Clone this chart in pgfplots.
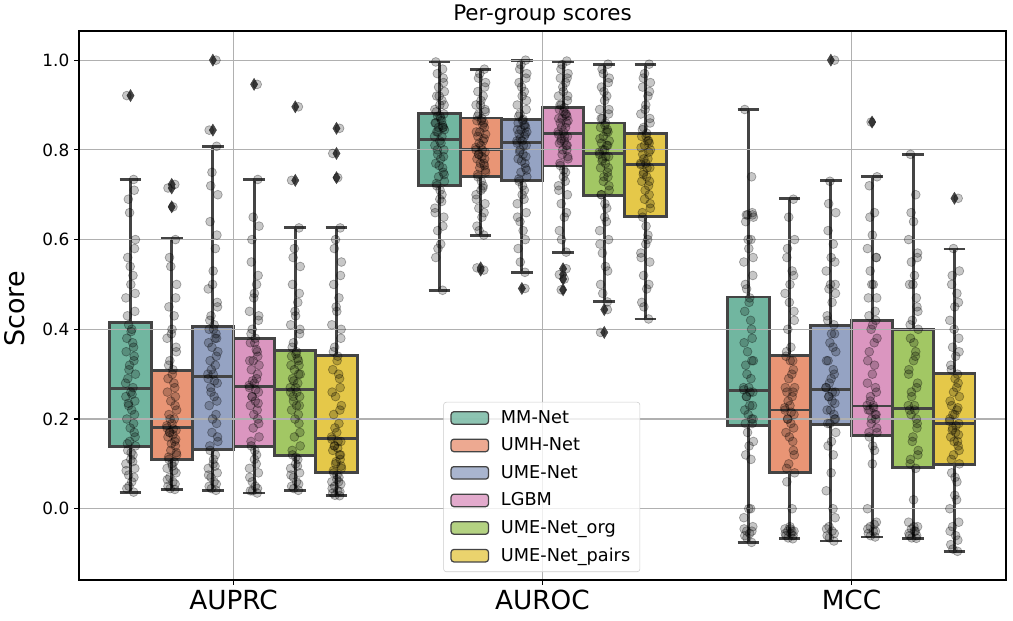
\documentclass[border=0pt]{standalone}
\usepackage{pgfplots}
\pgfplotsset{compat=1.18}
\usepackage{pgfplotstable}
\usepgfplotslibrary{statistics}
\usepackage{fontspec}
\setmainfont{DejaVu Sans}

\definecolor{cA}{RGB}{113,182,160}
\definecolor{cB}{RGB}{233,149,117}
\definecolor{cC}{RGB}{149,163,195}
\definecolor{cD}{RGB}{219,150,192}
\definecolor{cE}{RGB}{162,199,100}
\definecolor{cF}{RGB}{229,200,73}
\definecolor{bxline}{RGB}{68,68,68}
\definecolor{gridc}{RGB}{176,176,176}

% strip-plot points: j = jitter, a = AUPRC, b = AUROC, c = MCC
\pgfplotstableread[row sep=\\]{
j a b c\\
0.010 0.037 0.487 -0.075\\
-0.012 0.045 0.56 -0.06\\
0.004 0.06 0.59 -0.055\\
-0.006 0.075 0.62 -0.05\\
0.014 0.09 0.65 -0.04\\
-0.015 0.10 0.67 -0.02\\
0.001 0.11 0.69 0.0\\
0.008 0.12 0.70 0.11\\
-0.009 0.13 0.72 0.12\\
0.016 0.14 0.73 0.15\\
-0.003 0.15 0.74 0.17\\
0.012 0.17 0.75 0.19\\
0.010 0.19 0.76 0.20\\
-0.012 0.20 0.77 0.22\\
0.004 0.22 0.78 0.23\\
-0.006 0.23 0.79 0.25\\
0.014 0.24 0.80 0.26\\
-0.015 0.25 0.81 0.265\\
0.001 0.26 0.82 0.27\\
0.008 0.27 0.83 0.29\\
-0.009 0.29 0.84 0.32\\
0.016 0.30 0.845 0.33\\
-0.003 0.32 0.85 0.35\\
0.012 0.34 0.85 0.38\\
0.010 0.36 0.855 0.40\\
-0.012 0.38 0.86 0.44\\
0.004 0.40 0.87 0.47\\
-0.006 0.41 0.875 0.49\\
0.014 0.44 0.88 0.52\\
-0.015 0.47 0.89 0.55\\
0.001 0.50 0.90 0.58\\
0.008 0.52 0.91 0.60\\
-0.009 0.56 0.92 0.64\\
0.016 0.60 0.93 0.65\\
-0.003 0.66 0.94 0.655\\
0.012 0.71 0.96 0.66\\
0.010 0.734 0.98 0.74\\
-0.012 0.921 0.996 0.89\\
}\tMM
\pgfplotstableread[row sep=\\]{
j a b c\\
-0.005 0.05 0.58 -0.065\\
0.011 0.07 0.63 -0.05\\
-0.014 0.085 0.66 -0.045\\
0.007 0.105 0.685 0.0\\
0.002 0.125 0.71 0.14\\
-0.010 0.145 0.725 0.19\\
0.015 0.16 0.745 0.20\\
-0.001 0.18 0.765 0.21\\
0.013 0.21 0.785 0.23\\
-0.007 0.235 0.80 0.25\\
0.005 0.255 0.815 0.26\\
-0.016 0.28 0.83 0.27\\
-0.005 0.31 0.84 0.30\\
0.011 0.33 0.85 0.33\\
-0.014 0.35 0.86 0.37\\
0.007 0.37 0.865 0.42\\
0.002 0.395 0.875 0.46\\
-0.010 0.43 0.885 0.50\\
0.015 0.48 0.90 0.56\\
-0.001 0.54 0.92 0.60\\
0.013 0.58 0.95 0.655\\
-0.007 0.69 0.97 0.655\\
}\tMMb

\pgfplotstableread[row sep=\\]{
j a b c\\
0.010 0.043 0.61 -0.067\\
-0.012 0.05 0.63 -0.06\\
0.004 0.06 0.65 -0.055\\
-0.006 0.07 0.67 -0.05\\
0.014 0.08 0.68 -0.05\\
-0.015 0.09 0.70 -0.045\\
0.001 0.10 0.71 -0.04\\
0.008 0.105 0.72 0.0\\
-0.009 0.11 0.74 0.06\\
0.016 0.12 0.75 0.08\\
-0.003 0.13 0.76 0.10\\
0.012 0.14 0.765 0.13\\
0.010 0.15 0.77 0.15\\
-0.012 0.16 0.78 0.17\\
0.004 0.165 0.785 0.19\\
-0.006 0.17 0.79 0.20\\
0.014 0.175 0.795 0.21\\
-0.015 0.18 0.80 0.22\\
0.001 0.19 0.81 0.23\\
0.008 0.20 0.82 0.25\\
-0.009 0.21 0.83 0.26\\
0.016 0.22 0.835 0.27\\
-0.003 0.24 0.84 0.29\\
0.012 0.25 0.85 0.31\\
0.010 0.27 0.86 0.33\\
-0.012 0.29 0.865 0.34\\
0.004 0.31 0.87 0.36\\
-0.006 0.33 0.88 0.40\\
0.014 0.36 0.89 0.44\\
-0.015 0.38 0.90 0.48\\
0.001 0.40 0.91 0.50\\
0.008 0.43 0.92 0.53\\
-0.009 0.45 0.93 0.56\\
0.016 0.50 0.95 0.60\\
-0.003 0.54 0.97 0.65\\
0.012 0.60 0.98 0.69\\
0.010 0.723 0.532 nan\\
-0.012 0.715 0.537 nan\\
0.004 0.673 nan nan\\
}\tUMH
\pgfplotstableread[row sep=\\]{
j a b c\\
-0.005 0.045 0.62 -0.065\\
0.011 0.055 0.66 -0.06\\
-0.014 0.065 0.69 -0.055\\
0.007 0.085 0.715 -0.05\\
0.002 0.095 0.73 -0.045\\
-0.010 0.115 0.745 0.09\\
0.015 0.125 0.755 0.12\\
-0.001 0.145 0.77 0.16\\
0.013 0.155 0.78 0.18\\
-0.007 0.17 0.79 0.20\\
0.005 0.178 0.80 0.215\\
-0.016 0.185 0.805 0.225\\
-0.005 0.20 0.815 0.24\\
0.011 0.23 0.825 0.26\\
-0.014 0.26 0.84 0.27\\
0.007 0.28 0.855 0.30\\
0.002 0.30 0.865 0.33\\
-0.010 0.32 0.875 0.35\\
0.015 0.35 0.885 0.42\\
-0.001 0.39 0.90 0.46\\
0.013 0.47 0.94 0.52\\
-0.007 0.56 0.96 0.58\\
}\tUMHb

\pgfplotstableread[row sep=\\]{
j a b c\\
0.010 0.041 0.527 -0.072\\
-0.012 0.05 0.58 -0.06\\
0.004 0.06 0.62 -0.05\\
-0.006 0.07 0.64 -0.04\\
0.014 0.08 0.66 -0.02\\
-0.015 0.09 0.68 0.04\\
0.001 0.10 0.70 0.08\\
0.008 0.12 0.71 0.12\\
-0.009 0.13 0.73 0.14\\
0.016 0.15 0.74 0.17\\
-0.003 0.17 0.75 0.19\\
0.012 0.19 0.76 0.20\\
0.010 0.21 0.77 0.21\\
-0.012 0.23 0.78 0.22\\
0.004 0.25 0.79 0.24\\
-0.006 0.26 0.80 0.25\\
0.014 0.28 0.81 0.26\\
-0.015 0.29 0.815 0.27\\
0.001 0.30 0.82 0.29\\
0.008 0.32 0.83 0.31\\
-0.009 0.33 0.835 0.33\\
0.016 0.35 0.84 0.35\\
-0.003 0.36 0.845 0.37\\
0.012 0.38 0.85 0.39\\
0.010 0.39 0.855 0.41\\
-0.012 0.40 0.86 0.43\\
0.004 0.41 0.868 0.46\\
-0.006 0.43 0.88 0.49\\
0.014 0.46 0.89 0.50\\
-0.015 0.49 0.90 0.53\\
0.001 0.53 0.92 0.56\\
0.008 0.58 0.93 0.59\\
-0.009 0.64 0.95 0.62\\
0.016 0.70 0.97 0.66\\
-0.003 0.75 0.99 0.73\\
0.012 0.808 1.0 1.0\\
0.010 1.0 0.491 nan\\
-0.012 0.844 nan nan\\
}\tUME
\pgfplotstableread[row sep=\\]{
j a b c\\
-0.005 0.045 0.55 -0.065\\
0.011 0.055 0.60 -0.055\\
-0.014 0.075 0.65 -0.045\\
0.007 0.095 0.69 0.0\\
0.002 0.11 0.72 0.15\\
-0.010 0.14 0.735 0.19\\
0.015 0.16 0.755 0.20\\
-0.001 0.20 0.775 0.22\\
0.013 0.24 0.785 0.235\\
-0.007 0.27 0.795 0.25\\
0.005 0.285 0.81 0.26\\
-0.016 0.30 0.82 0.27\\
-0.005 0.31 0.825 0.28\\
0.011 0.34 0.835 0.30\\
-0.014 0.37 0.845 0.33\\
0.007 0.38 0.855 0.36\\
0.002 0.40 0.865 0.39\\
-0.010 0.42 0.875 0.42\\
0.015 0.45 0.91 0.48\\
-0.001 0.50 0.94 0.50\\
0.013 0.61 0.96 0.55\\
-0.007 0.72 0.98 0.68\\
}\tUMEb

\pgfplotstableread[row sep=\\]{
j a b c\\
0.010 0.035 0.572 -0.063\\
-0.012 0.04 0.62 -0.055\\
0.004 0.05 0.65 -0.05\\
-0.006 0.06 0.68 -0.04\\
0.014 0.08 0.70 -0.03\\
-0.015 0.09 0.72 0.0\\
0.001 0.11 0.74 0.10\\
0.008 0.12 0.75 0.13\\
-0.009 0.14 0.765 0.16\\
0.016 0.16 0.78 0.17\\
-0.003 0.18 0.79 0.19\\
0.012 0.20 0.80 0.20\\
0.010 0.22 0.81 0.21\\
-0.012 0.23 0.815 0.22\\
0.004 0.24 0.82 0.23\\
-0.006 0.25 0.825 0.24\\
0.014 0.26 0.83 0.26\\
-0.015 0.27 0.835 0.28\\
0.001 0.28 0.84 0.30\\
0.008 0.29 0.85 0.32\\
-0.009 0.31 0.86 0.35\\
0.016 0.32 0.865 0.38\\
-0.003 0.33 0.87 0.40\\
0.012 0.34 0.875 0.42\\
0.010 0.35 0.88 0.44\\
-0.012 0.37 0.89 0.47\\
0.004 0.38 0.894 0.50\\
-0.006 0.40 0.90 0.53\\
0.014 0.42 0.91 0.56\\
-0.015 0.44 0.92 0.58\\
0.001 0.48 0.93 0.61\\
0.008 0.50 0.95 0.66\\
-0.009 0.55 0.96 0.72\\
0.016 0.63 0.97 0.74\\
-0.003 0.65 0.99 0.862\\
0.012 0.734 0.998 nan\\
0.010 0.946 0.535 nan\\
-0.012 nan 0.522 nan\\
0.004 nan 0.512 nan\\
-0.006 nan 0.488 nan\\
}\tLGBM
\pgfplotstableread[row sep=\\]{
j a b c\\
-0.005 0.04 0.60 -0.06\\
0.011 0.045 0.66 -0.05\\
-0.014 0.07 0.71 -0.045\\
0.007 0.10 0.73 -0.035\\
0.002 0.13 0.755 0.14\\
-0.010 0.15 0.77 0.17\\
0.015 0.19 0.785 0.18\\
-0.001 0.21 0.80 0.20\\
0.013 0.235 0.81 0.21\\
-0.007 0.25 0.82 0.22\\
0.005 0.265 0.83 0.225\\
-0.016 0.275 0.84 0.23\\
-0.005 0.285 0.85 0.25\\
0.011 0.30 0.86 0.27\\
-0.014 0.33 0.87 0.33\\
0.007 0.355 0.88 0.37\\
0.002 0.37 0.885 0.41\\
-0.010 0.39 0.90 0.43\\
0.015 0.43 0.92 0.47\\
-0.001 0.47 0.94 0.50\\
0.013 0.52 0.96 0.56\\
-0.007 0.60 0.98 0.65\\
}\tLGBMb

\pgfplotstableread[row sep=\\]{
j a b c\\
0.010 0.041 0.461 -0.066\\
-0.012 0.05 0.50 -0.06\\
0.004 0.06 0.54 -0.05\\
-0.006 0.07 0.57 -0.045\\
0.014 0.08 0.60 -0.04\\
-0.015 0.09 0.62 -0.03\\
0.001 0.10 0.65 0.02\\
0.008 0.11 0.67 0.09\\
-0.009 0.12 0.70 0.11\\
0.016 0.14 0.71 0.13\\
-0.003 0.16 0.73 0.15\\
0.012 0.19 0.74 0.18\\
0.010 0.21 0.75 0.20\\
-0.012 0.22 0.76 0.22\\
0.004 0.23 0.77 0.23\\
-0.006 0.24 0.78 0.26\\
0.014 0.25 0.785 0.28\\
-0.015 0.26 0.79 0.30\\
0.001 0.27 0.80 0.33\\
0.008 0.28 0.81 0.35\\
-0.009 0.29 0.815 0.38\\
0.016 0.30 0.82 0.40\\
-0.003 0.31 0.83 0.42\\
0.012 0.32 0.84 0.45\\
0.010 0.33 0.845 0.47\\
-0.012 0.34 0.85 0.50\\
0.004 0.35 0.86 0.52\\
-0.006 0.37 0.87 0.55\\
0.014 0.39 0.88 0.57\\
-0.015 0.41 0.89 0.60\\
0.001 0.43 0.91 0.64\\
0.008 0.46 0.92 0.70\\
-0.009 0.50 0.94 0.79\\
0.016 0.54 0.96 nan\\
-0.003 0.58 0.97 nan\\
0.012 0.626 0.991 nan\\
0.010 0.896 0.444 nan\\
-0.012 0.732 0.393 nan\\
}\tORG
\pgfplotstableread[row sep=\\]{
j a b c\\
-0.005 0.045 0.48 -0.065\\
0.011 0.055 0.53 -0.06\\
-0.014 0.075 0.59 -0.055\\
0.007 0.095 0.64 -0.05\\
0.002 0.115 0.68 -0.04\\
-0.010 0.13 0.70 0.10\\
0.015 0.17 0.72 0.12\\
-0.001 0.20 0.74 0.16\\
0.013 0.23 0.76 0.19\\
-0.007 0.25 0.775 0.21\\
0.005 0.26 0.785 0.22\\
-0.016 0.27 0.795 0.23\\
-0.005 0.285 0.80 0.25\\
0.011 0.30 0.81 0.27\\
-0.014 0.32 0.825 0.31\\
0.007 0.335 0.84 0.34\\
0.002 0.345 0.855 0.37\\
-0.010 0.36 0.87 0.41\\
0.015 0.40 0.89 0.44\\
-0.001 0.44 0.93 0.50\\
0.013 0.48 0.95 0.56\\
-0.007 0.56 0.98 0.66\\
}\tORGb

\pgfplotstableread[row sep=\\]{
j a b c\\
0.010 0.029 0.423 -0.095\\
-0.012 0.035 0.46 -0.08\\
0.004 0.04 0.49 -0.06\\
-0.006 0.05 0.52 -0.04\\
0.014 0.055 0.55 -0.03\\
-0.015 0.06 0.57 0.0\\
0.001 0.065 0.59 0.03\\
0.008 0.07 0.61 0.06\\
-0.009 0.08 0.65 0.08\\
0.016 0.09 0.67 0.10\\
-0.003 0.10 0.69 0.12\\
0.012 0.11 0.70 0.14\\
0.010 0.12 0.72 0.15\\
-0.012 0.13 0.73 0.16\\
0.004 0.135 0.74 0.17\\
-0.006 0.14 0.75 0.18\\
0.014 0.15 0.76 0.19\\
-0.015 0.155 0.767 0.20\\
0.001 0.17 0.77 0.21\\
0.008 0.19 0.78 0.22\\
-0.009 0.21 0.79 0.23\\
0.016 0.23 0.80 0.25\\
-0.003 0.25 0.81 0.26\\
0.012 0.27 0.815 0.28\\
0.010 0.29 0.82 0.30\\
-0.012 0.31 0.83 0.32\\
0.004 0.34 0.837 0.34\\
-0.006 0.36 0.85 0.36\\
0.014 0.38 0.87 0.38\\
-0.015 0.41 0.88 0.42\\
0.001 0.44 0.90 0.45\\
0.008 0.47 0.92 0.48\\
-0.009 0.50 0.94 0.50\\
0.016 0.55 0.95 0.53\\
-0.003 0.60 0.97 0.58\\
0.012 0.626 0.991 0.692\\
0.010 0.848 nan nan\\
-0.012 0.792 nan nan\\
0.004 0.738 nan nan\\
}\tPAIRS
\pgfplotstableread[row sep=\\]{
j a b c\\
-0.005 0.03 0.45 -0.09\\
0.011 0.038 0.50 -0.07\\
-0.014 0.045 0.56 -0.05\\
0.007 0.06 0.60 0.02\\
0.002 0.075 0.63 0.07\\
-0.010 0.085 0.66 0.11\\
0.015 0.095 0.68 0.13\\
-0.001 0.105 0.71 0.15\\
0.013 0.12 0.73 0.165\\
-0.007 0.14 0.745 0.175\\
0.005 0.15 0.76 0.185\\
-0.016 0.16 0.77 0.195\\
-0.005 0.18 0.78 0.21\\
0.011 0.22 0.795 0.225\\
-0.014 0.26 0.805 0.24\\
0.007 0.30 0.82 0.27\\
0.002 0.33 0.83 0.29\\
-0.010 0.35 0.845 0.31\\
0.015 0.40 0.86 0.35\\
-0.001 0.45 0.89 0.40\\
0.013 0.52 0.93 0.46\\
-0.007 0.58 0.96 0.52\\
}\tPAIRSb

% box: position, colour, lower whisker, q1, median, q3, upper whisker, outliers
\newcommand{\bx}[8]{%
\addplot[forget plot, boxplot prepared={draw position=#1, draw direction=y, box extend=0.1333, whisker extend=0.07,
  lower whisker=#3, lower quartile=#4, median=#5, upper quartile=#6, upper whisker=#7},
  draw=bxline, line width=2.1pt, fill=#2, mark=diamond*, mark size=4.3pt,
  mark options={fill=bxline, draw=bxline, line width=0.4pt, xscale=0.8, solid}] coordinates {#8};}

\newcommand{\pts}[3]{%
\addplot[forget plot, only marks, mark=*, mark size=3.2pt,
  mark options={fill=black, fill opacity=0.22, draw=black, draw opacity=0.32, line width=0.5pt}]
  table[x expr=\thisrow{j}+#1, y=#2] {#3};}

\newcommand{\leg}[2]{%
\addlegendimage{legend image code/.code={\draw[fill=#1, draw=bxline, line width=0.9pt] (0pt,-4.5pt) rectangle (27pt,4.5pt); \path[draw=none, fill=none] (0pt,-4.5pt) rectangle (34pt,4.5pt);}}
\addlegendentry{#2}}

\begin{document}
\begin{tikzpicture}
\begin{axis}[
  name=ax,
  scale only axis,
  width=669.9pt, height=396.8pt,
  xmin=-0.5, xmax=2.5, ymin=-0.159, ymax=1.065,
  xtick={0,1,2}, xticklabels={AUPRC,AUROC,MCC},
  ytick={0,0.2,0.4,0.6,0.8,1.0}, yticklabels={0.0,0.2,0.4,0.6,0.8,1.0},
  xticklabel style={font=\fontsize{19}{22}\selectfont},
  yticklabel style={font=\fontsize{12.2}{14}\selectfont},
  tick align=outside, tick pos=left, major tick length=3.5pt,
  tick style={black, line width=0.8pt},
  axis line style={black, line width=0.8pt},
  grid=major, major grid style={gridc, line width=0.8pt},
  axis on top,
  title={Per-group scores},
  title style={font=\fontsize{15.5}{18}\selectfont, at={(axis description cs:0.5,1)}, anchor=base, yshift=1.4pt},
  ylabel={Score},
  ylabel style={font=\fontsize{19.5}{22}\selectfont, at={(axis description cs:-0.0583,0.494)}, anchor=south, inner sep=0pt},
  legend style={at={(0.393,0.0146)}, anchor=south west, draw=black!20, rounded corners=2pt,
    fill=white, fill opacity=0.8, text opacity=1, font=\fontsize{12.8}{15}\selectfont,
    row sep=5pt, inner xsep=5pt, inner ysep=4pt},
  legend cell align=left,
]
% AUPRC
\bx{-0.3333}{cA}{0.037}{0.138}{0.269}{0.415}{0.734}{(0,0.921)}
\bx{-0.2}{cB}{0.043}{0.110}{0.181}{0.309}{0.602}{(0,0.723) (0,0.715) (0,0.673)}
\bx{-0.0667}{cC}{0.041}{0.133}{0.295}{0.407}{0.808}{(0,1.0) (0,0.844)}
\bx{0.0667}{cD}{0.035}{0.138}{0.273}{0.380}{0.734}{(0,0.946)}
\bx{0.2}{cE}{0.041}{0.119}{0.266}{0.352}{0.626}{(0,0.896) (0,0.732)}
\bx{0.3333}{cF}{0.029}{0.081}{0.156}{0.342}{0.626}{(0,0.848) (0,0.792) (0,0.738)}
% AUROC
\bx{0.6667}{cA}{0.487}{0.721}{0.823}{0.881}{0.996}{}
\bx{0.8}{cB}{0.610}{0.741}{0.800}{0.871}{0.980}{(0,0.532) (0,0.537)}
\bx{0.9333}{cC}{0.527}{0.732}{0.817}{0.868}{1.0}{(0,0.491)}
\bx{1.0667}{cD}{0.572}{0.764}{0.837}{0.894}{0.998}{(0,0.535) (0,0.522) (0,0.512) (0,0.488)}
\bx{1.2}{cE}{0.461}{0.698}{0.791}{0.860}{0.991}{(0,0.444) (0,0.393)}
\bx{1.3333}{cF}{0.423}{0.652}{0.767}{0.837}{0.991}{}
% MCC
\bx{1.6667}{cA}{-0.075}{0.186}{0.264}{0.472}{0.890}{}
\bx{1.8}{cB}{-0.067}{0.081}{0.220}{0.342}{0.692}{}
\bx{1.9333}{cC}{-0.072}{0.187}{0.266}{0.408}{0.731}{(0,1.0)}
\bx{2.0667}{cD}{-0.063}{0.163}{0.229}{0.419}{0.741}{(0,0.862)}
\bx{2.2}{cE}{-0.066}{0.092}{0.224}{0.400}{0.790}{}
\bx{2.3333}{cF}{-0.095}{0.099}{0.190}{0.301}{0.579}{(0,0.692)}
% points
\pts{-0.3333}{a}{\tMM}\pts{0.6667}{b}{\tMM}\pts{1.6667}{c}{\tMM}
\pts{-0.3333}{a}{\tMMb}\pts{0.6667}{b}{\tMMb}\pts{1.6667}{c}{\tMMb}
\pts{-0.2}{a}{\tUMH}\pts{0.8}{b}{\tUMH}\pts{1.8}{c}{\tUMH}
\pts{-0.2}{a}{\tUMHb}\pts{0.8}{b}{\tUMHb}\pts{1.8}{c}{\tUMHb}
\pts{-0.0667}{a}{\tUME}\pts{0.9333}{b}{\tUME}\pts{1.9333}{c}{\tUME}
\pts{-0.0667}{a}{\tUMEb}\pts{0.9333}{b}{\tUMEb}\pts{1.9333}{c}{\tUMEb}
\pts{0.0667}{a}{\tLGBM}\pts{1.0667}{b}{\tLGBM}\pts{2.0667}{c}{\tLGBM}
\pts{0.0667}{a}{\tLGBMb}\pts{1.0667}{b}{\tLGBMb}\pts{2.0667}{c}{\tLGBMb}
\pts{0.2}{a}{\tORG}\pts{1.2}{b}{\tORG}\pts{2.2}{c}{\tORG}
\pts{0.2}{a}{\tORGb}\pts{1.2}{b}{\tORGb}\pts{2.2}{c}{\tORGb}
\pts{0.3333}{a}{\tPAIRS}\pts{1.3333}{b}{\tPAIRS}\pts{2.3333}{c}{\tPAIRS}
\pts{0.3333}{a}{\tPAIRSb}\pts{1.3333}{b}{\tPAIRSb}\pts{2.3333}{c}{\tPAIRSb}
% legend
\leg{cA}{MM-Net}
\leg{cB}{UMH-Net}
\leg{cC}{UME-Net}
\leg{cD}{LGBM}
\leg{cE}{UME-Net\_org}
\leg{cF}{UME-Net\_pairs}
\end{axis}
\pgfresetboundingbox
\path ([xshift=-57.1pt,yshift=-28.9pt]ax.south west) rectangle ([xshift=675pt,yshift=419.2pt]ax.south west);
\end{tikzpicture}
\end{document}
